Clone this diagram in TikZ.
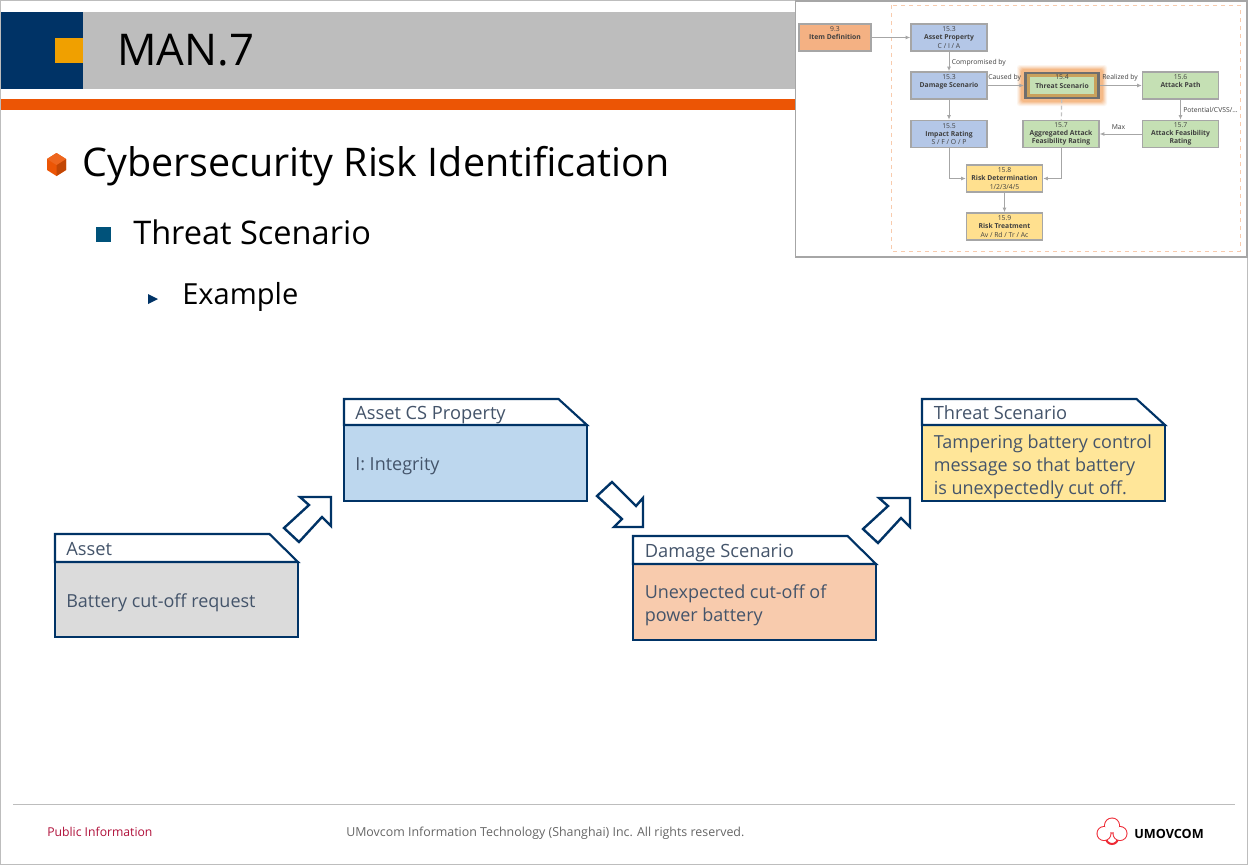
\documentclass[tikz,border=0pt]{standalone}
\usepackage{fontspec}
\setmainfont{Open Sans}
\usetikzlibrary{arrows.meta,calc}
\definecolor{navy}{HTML}{003366}
\definecolor{slate}{HTML}{44546A}
\definecolor{hdrgray}{HTML}{BDBDBD}
\definecolor{amber}{HTML}{F0A000}
\definecolor{rust}{HTML}{EC5505}
\definecolor{gfill}{HTML}{DBDBDB}
\definecolor{bfill}{HTML}{BDD7EE}
\definecolor{ofill}{HTML}{F8CBAD}
\definecolor{yfill}{HTML}{FFE699}
\definecolor{iblue}{HTML}{B4C7E7}
\definecolor{igreen}{HTML}{C5E0B4}
\definecolor{iorange}{HTML}{F4B183}
\definecolor{iyellow}{HTML}{FFE08F}
\definecolor{iline}{HTML}{A6A6A6}
\definecolor{itext}{HTML}{404040}
\definecolor{teal}{HTML}{00527A}
\definecolor{crimson}{HTML}{B0103A}
\definecolor{logored}{HTML}{EE2A35}
\definecolor{framegray}{HTML}{A6A6A6}
\definecolor{glow}{HTML}{F4A460}
\definecolor{tsborder}{HTML}{6E6E6E}
\definecolor{tsinner}{HTML}{C9A15C}
\tikzset{
  x=0.75pt,y=-0.75pt,
  tabshape/.style={draw=navy,line width=1.6pt,fill=white,line join=miter},
  bodyshape/.style={draw=navy,line width=1.6pt,line join=miter},
  blockarrow/.style={draw=navy,line width=1.8pt,fill=white,line join=miter},
  tabtext/.style={anchor=base west,inner sep=0pt,text=slate,font=\fontsize{13.7pt}{17pt}\selectfont},
  bodytext/.style={anchor=west,inner sep=0pt,text=slate,align=left,font=\fontsize{13.5pt}{17.3pt}\selectfont},
  ibox/.style={draw=iline,line width=1pt,minimum width=57pt,minimum height=20.4pt,inner sep=0pt,align=center,text=itext,font=\fontsize{5.1pt}{6.2pt}\selectfont,execute at begin node={\rule{0pt}{5.4pt}}},
  ilink/.style={draw=iline,line width=.7pt,-{Latex[length=3.5pt,width=3pt]}},
  ilabel/.style={inner sep=0pt,text=itext,font=\fontsize{5.1pt}{6.2pt}\selectfont},
}
\newcommand{\tabbox}[6]{% x1 ytop ycut x2 ybot fill
  \fill[#6] (#1,#3) rectangle (#4,#5);
  \draw[tabshape] (#1,#3) -- (#1,#2) -- ({#4-28.5},#2) -- (#4,#3) -- cycle;
  \draw[bodyshape] (#1,#3) rectangle (#4,#5);
}
\begin{document}
\begin{tikzpicture}
\useasboundingbox (0,0) rectangle (1248,865);
\fill[white] (0,0) rectangle (1248,865);
\draw[hdrgray,line width=.9pt] (0.6,0.6) rectangle (1247.4,864.4);
% header
\fill[hdrgray] (83,12) rectangle (800,89);
\fill[navy] (1,12) rectangle (82.5,89);
\fill[amber] (55,38) rectangle (82.5,63);
\fill[rust] (1,99) rectangle (1247,110);
\node[anchor=base west,inner sep=0pt,font=\fontsize{32.8pt}{40pt}\selectfont] (title) at (117,65) {MAN.7};
% bullets
\fill[rust] (56.5,153) -- (66,159) -- (66,170) -- (56.5,176) -- (47,170) -- (47,159) -- cycle;
\fill[black!18!rust] (56.5,165) -- (66,159) -- (66,170) -- (56.5,176) -- cycle;
\fill[rust!90!white] (56.5,153) -- (66,159) -- (56.5,165) -- (47,159) -- cycle;
\fill[teal] (96,227) rectangle (111,242);
\fill[navy] (148,294) -- (158,299) -- (148,304) -- cycle;
\node[anchor=base west,inner sep=0pt,font=\fontsize{29.6pt}{34pt}\selectfont] (l1) at (82,176) {Cybersecurity Risk Identification};
\node[anchor=base west,inner sep=0pt,font=\fontsize{24.4pt}{29pt}\selectfont] (l2) at (133,244) {Threat Scenario};
\node[anchor=base west,inner sep=0pt,font=\fontsize{21.8pt}{25pt}\selectfont] (l3) at (182,304) {Example};
% tab boxes
\tabbox{55}{534}{562}{298}{637}{gfill}
\node[tabtext] (t1) at (66,555) {Asset};
\node[bodytext] (b1) at (66,602.5) {Battery cut-off request};
\tabbox{344}{399}{425}{587}{501}{bfill}
\node[tabtext] (t2) at (355,419) {Asset CS Property};
\node[bodytext] (b2) at (355,466.5) {I: Integrity};
\tabbox{633}{536}{564}{876}{640}{ofill}
\node[tabtext] (t3) at (644.5,557) {Damage Scenario};
\node[bodytext] (b3) at (644.5,605) {Unexpected cut-off of\\power battery};
\tabbox{922}{399}{425}{1165}{501}{yfill}
\node[tabtext] (t4) at (933.5,419) {Threat Scenario};
\node[bodytext] (b4) at (933.5,466.5) {Tampering battery control\\message so that battery\\is unexpectedly cut off.};
% block arrows
\draw[blockarrow] (300,497) -- (331,497) -- (331,526) -- (322,517) -- (299,542) -- (284,528) -- (309,505) -- cycle;
\draw[blockarrow] (597,496) -- (612,482) -- (636,506) -- (643,498) -- (643,527) -- (614,527) -- (622,519) -- cycle;
\draw[blockarrow] (879,498) -- (910,498) -- (910,527) -- (901,518) -- (878,543) -- (863,529) -- (888,506) -- cycle;
% footer
\draw[hdrgray,line width=.75pt] (13,804) -- (1235,804);
\node[anchor=base west,inner sep=0pt,text=crimson,font=\fontsize{9.15pt}{11pt}\selectfont] (pub) at (47,836) {Public Information};
\node[anchor=base west,inner sep=0pt,text=black!60,font=\fontsize{9.3pt}{11pt}\selectfont] (copy) at (346,836) {UMovcom Information Technology (Shanghai) Inc. All rights reserved.};
\foreach \cx/\cy/\r in {1112/825.5/7,1104/833.5/6.5,1120/833.5/6.5,1112/838/6}
  \draw[logored,line width=1.5pt] (\cx,\cy) circle[radius=\r];
\foreach \cx/\cy/\r in {1112/825.5/7,1104/833.5/6.5,1120/833.5/6.5}
  \fill[white] (\cx,\cy) circle[radius=\r];
\node[anchor=base west,inner sep=0pt,font=\bfseries\fontsize{9.5pt}{11pt}\selectfont] (logo) at (1134,838) {UMOVCOM};
% inset
\fill[white] (795,1) rectangle (1247,257);
\draw[framegray,line width=1pt] (795.5,1) rectangle (1247,257);
\draw[ofill,line width=.6pt,dashed] (891,5) rectangle (1240,251);
\foreach \o/\a in {7/.10,6/.15,5/.2,4/.3,3/.4} {
  \fill[glow,opacity=\a,rounded corners=2pt] ({1024-\o},{72-\o}) rectangle ({1100+\o},{99+\o});
}
\node[ibox,fill=iorange,minimum width=54pt] (item) at (835,37.5) {9.3\\\textbf{Item Definition}\\[1pt]};
\node[ibox,fill=iblue] (ap) at (949,37.5) {15.3\\\textbf{Asset Property}\\C / I / A};
\node[ibox,fill=iblue] (ds) at (949,85.5) {15.3\\\textbf{Damage Scenario}\\[1pt]};
\node[ibox,fill=igreen,draw=tsborder,line width=2.25pt,minimum width=54.75pt,minimum height=18pt] (ts) at (1062,85.5) {};
\draw[tsinner,line width=2.25pt] (1028.5,75.5) rectangle (1095.5,95.5);
\node[ilabel,align=center,yshift=-.6pt] (tstext) at (1062,85.5) {15.4\\\textbf{Threat Scenario}\\[1pt]};
\node[ibox,fill=igreen] (pa) at (1180.5,85.5) {15.6\\\textbf{Attack Path}\\[1pt]};
\node[ibox,fill=iblue] (ir) at (949,134) {15.5\\\textbf{Impact Rating}\\S / F / O / P};
\node[ibox,fill=igreen] (aa) at (1061,134) {15.7\\\textbf{Aggregated Attack}\\\textbf{Feasibility Rating}};
\node[ibox,fill=igreen] (af) at (1180.5,134) {15.7\\\textbf{Attack Feasibility}\\\textbf{Rating}};
\node[ibox,fill=iyellow] (rd) at (1004.5,178.5) {15.8\\\textbf{Risk Determination}\\1/2/3/4/5};
\node[ibox,fill=iyellow] (rt) at (1004.5,226.5) {15.9\\\textbf{Risk Treatment}\\Av / Rd / Tr / Ac};
\draw[ilink] (item) -- (ap);
\draw[ilink] (ap) -- (ds);
\draw[ilink] (ds) -- (ts);
\draw[ilink] (ts) -- (pa);
\draw[ilink] (pa) -- (af);
\draw[ilink] (af) -- (aa);
\draw[ilink] (ds) -- (ir);
\draw[iline!70,line width=.9pt,densely dashed] (ts) -- (aa);
\draw[ilink] (ir) |- (rd);
\draw[ilink] (aa) |- (rd);
\draw[ilink] (rd) -- (rt);
\node[ilabel,anchor=west] (lc) at (951.5,62.5) {Compromised by};
\node[ilabel,anchor=west] (lcb) at (988,77.5) {Caused by};
\node[ilabel,anchor=west] (lrb) at (1102,77.5) {Realized by};
\node[ilabel,anchor=west] (lpo) at (1183,109.5) {Potential/CVSS/...};
\node[ilabel] (lmx) at (1118.5,127) {Max};
\end{tikzpicture}
\end{document}
